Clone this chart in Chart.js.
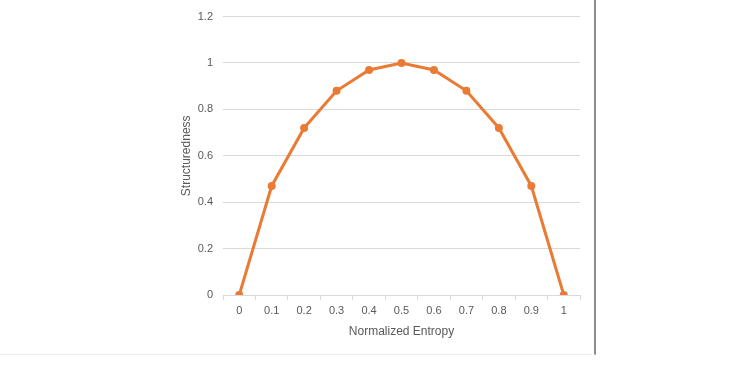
<!DOCTYPE html>
<html>
<head>
<meta charset="utf-8">
<script src="https://cdn.jsdelivr.net/npm/chart.js@4/dist/chart.umd.min.js"></script>
<style>
  html, body { margin: 0; padding: 0; background: #fff; }
  #wrap { position: relative; width: 750px; height: 375px; }
  #frame { position: absolute; left: 0; top: 0; width: 594px; height: 354px;
           border-right: 2px solid #8c8c8c; border-bottom: 1px solid #efefef; }
  canvas { position: absolute; left: 0; top: 0; }
</style>
</head>
<body>
<div id="wrap">
  <div id="frame"></div>
  <canvas id="chart" width="750" height="375"></canvas>
</div>
<script>
  const entropyLabels = ['0', '0.1', '0.2', '0.3', '0.4', '0.5', '0.6', '0.7', '0.8', '0.9', '1'];
  const structuredness = [0, 0.47, 0.72, 0.88, 0.97, 1, 0.97, 0.88, 0.72, 0.47, 0];
  const yTicks = [0, 0.2, 0.4, 0.6, 0.8, 1, 1.2];

  const textColor = '#595959';
  const font = { family: "'Liberation Sans', 'Open Sans', sans-serif", size: 11 };

  new Chart(document.getElementById('chart'), {
    type: 'line',
    data: {
      labels: entropyLabels,
      datasets: [
        {
          data: structuredness,
          borderColor: '#E97B35',
          backgroundColor: '#E97B35',
          borderWidth: 3,
          pointRadius: 4,
          pointBorderWidth: 0,
          tension: 0,
        },
      ],
    },
    options: {
      responsive: false,
      animation: false,
      layout: { padding: { left: 175, right: 170, top: 6, bottom: 32 } },
      plugins: { legend: { display: false }, tooltip: { enabled: false } },
      scales: {
        x: {
          offset: true,
          grid: { display: true, offset: true, drawOnChartArea: false, color: '#d9d9d9', tickLength: 5 },
          border: { color: '#d9d9d9' },
          ticks: { color: textColor, font: font, padding: 4, maxRotation: 0 },
          title: { display: true, text: 'Normalized Entropy', color: textColor, font: { family: font.family, size: 12 }, padding: { top: 2 } },
          afterFit: (scale) => { scale.height = 48; },
        },
        y: {
          min: 0,
          max: 1.2,
          afterBuildTicks: (scale) => { scale.ticks = yTicks.map((v) => ({ value: v })); },
          grid: { color: '#d9d9d9', drawTicks: false, lineWidth: 1 },
          border: { display: false },
          ticks: { color: textColor, font: font, padding: 10, callback: (v) => String(v) },
          title: { display: true, text: 'Structuredness', color: textColor, font: { family: font.family, size: 12 } },
          afterFit: (scale) => { scale.width = 48; },
        },
      },
    },
  });
</script>
</body>
</html>
